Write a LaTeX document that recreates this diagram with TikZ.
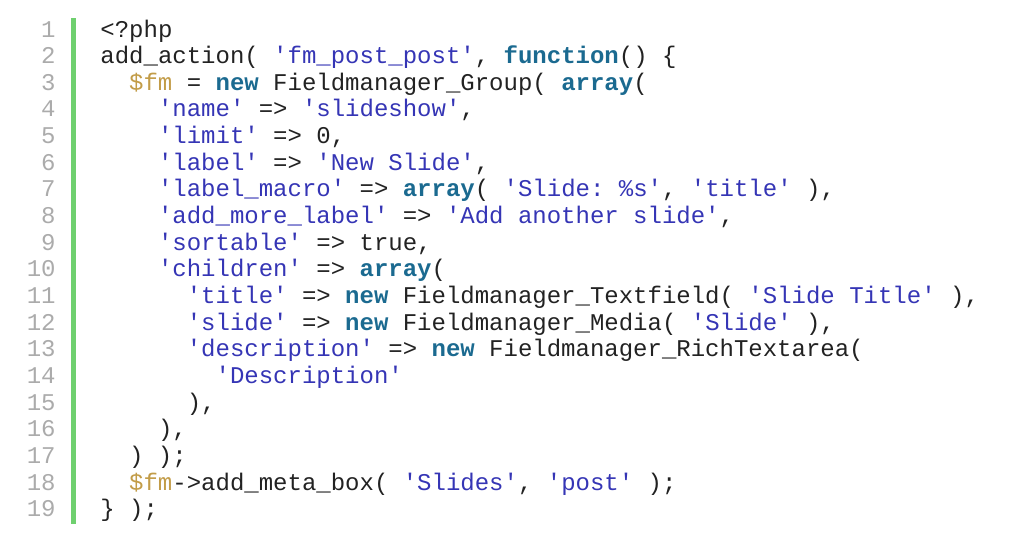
\documentclass[tikz,border=0pt]{standalone}
\usepackage{fontspec}
\setmonofont{Liberation Mono}
\usepackage{tikz}
\usetikzlibrary{positioning}

\definecolor{numgray}{HTML}{ABABAB}
\definecolor{bargreen}{HTML}{6FD06F}
\definecolor{codeblack}{HTML}{222222}
\definecolor{strblue}{HTML}{3535B5}
\definecolor{kwteal}{HTML}{1B6A90}
\definecolor{vargold}{HTML}{C29C48}

\newcommand{\phpstr}[1]{\textcolor{strblue}{#1}}
\newcommand{\phpkw}[1]{\textcolor{kwteal}{\bfseries #1}}
\newcommand{\phpvar}[1]{\textcolor{vargold}{#1}}

\tikzset{
    codeline/.style={anchor=base west, inner sep=0pt, text=codeblack,
        font=\ttfamily\fontsize{12pt}{13pt}\selectfont},
    linenum/.style={anchor=base east, inner sep=0pt, text=numgray,
        font=\ttfamily\fontsize{12pt}{13pt}\selectfont}
}

\begin{document}
\begin{tikzpicture}[x=1pt, y=1pt]
        \useasboundingbox (0, 0) rectangle (512, -271.5);
        % line numbers
        \foreach \n in {1,...,19} {
            \node[linenum] (num\n) at (28, {-18.5-13.33*(\n-1)}) {\n};
        }
        % green bar
        \fill[bargreen] (35.5, -9) rectangle (38, -262);
        % code
        \begin{scope}[every node/.style={codeline}]
            \node (l1) at (50, 0 |- num1.base) {<?php};
            \node (l2) at (50, 0 |- num2.base) {add\_action( \phpstr{'fm\_post\_post'}, \phpkw{function}() \{};
            \node (l3) at (64.4, 0 |- num3.base) {\phpvar{\$fm} = \phpkw{new} Fieldmanager\_Group( \phpkw{array}(};
            \node (l4) at (78.8, 0 |- num4.base) {\phpstr{'name'} => \phpstr{'slideshow'},};
            \node (l5) at (78.8, 0 |- num5.base) {\phpstr{'limit'} => 0,};
            \node (l6) at (78.8, 0 |- num6.base) {\phpstr{'label'} => \phpstr{'New Slide'},};
            \node (l7) at (78.8, 0 |- num7.base) {\phpstr{'label\_macro'} => \phpkw{array}( \phpstr{'Slide: \%s'}, \phpstr{'title'} ),};
            \node (l8) at (78.8, 0 |- num8.base) {\phpstr{'add\_more\_label'} => \phpstr{'Add another slide'},};
            \node (l9) at (78.8, 0 |- num9.base) {\phpstr{'sortable'} => true,};
            \node (l10) at (78.8, 0 |- num10.base) {\phpstr{'children'} => \phpkw{array}(};
            \node (l11) at (93.2, 0 |- num11.base) {\phpstr{'title'} => \phpkw{new} Fieldmanager\_Textfield( \phpstr{'Slide Title'} ),};
            \node (l12) at (93.2, 0 |- num12.base) {\phpstr{'slide'} => \phpkw{new} Fieldmanager\_Media( \phpstr{'Slide'} ),};
            \node (l13) at (93.2, 0 |- num13.base) {\phpstr{'description'} => \phpkw{new} Fieldmanager\_RichTextarea(};
            \node (l14) at (107.6, 0 |- num14.base) {\phpstr{'Description'}};
            \node (l15) at (93.2, 0 |- num15.base) {),};
            \node (l16) at (78.8, 0 |- num16.base) {),};
            \node (l17) at (64.4, 0 |- num17.base) {) );};
            \node (l18) at (64.4, 0 |- num18.base) {\phpvar{\$fm}->add\_meta\_box( \phpstr{'Slides'}, \phpstr{'post'} );};
            \node (l19) at (50, 0 |- num19.base) {\} );};
        \end{scope}
    \end{tikzpicture}
\end{document}
